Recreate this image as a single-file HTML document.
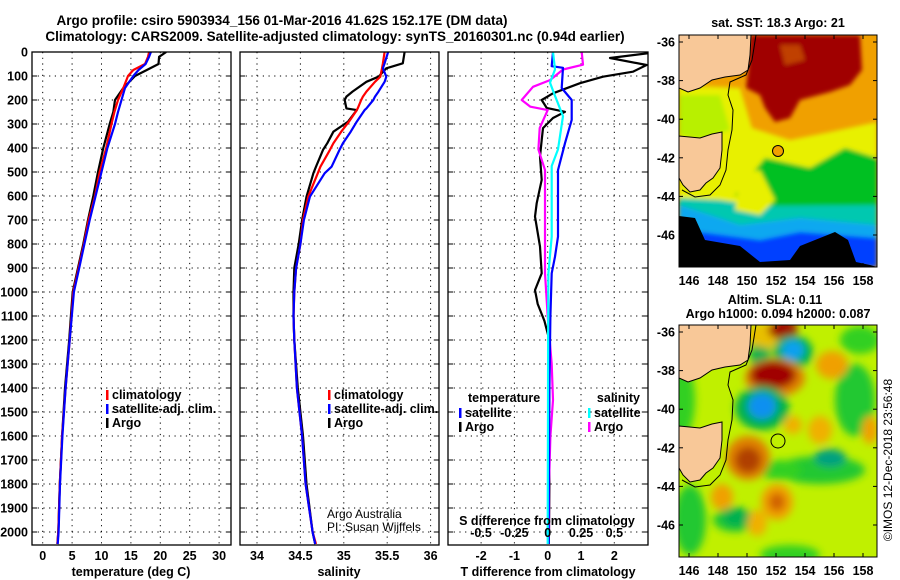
<!DOCTYPE html>
<html><head><meta charset="utf-8">
<style>
html,body{margin:0;padding:0;background:#fff;}
svg{display:block;font-family:"Liberation Sans",sans-serif;}
</style></head>
<body>
<svg id="fig" width="900" height="580" viewBox="0 0 900 580" xmlns="http://www.w3.org/2000/svg">
<defs>
<clipPath id="c1"><rect x="32" y="52" width="199" height="493"/></clipPath>
<clipPath id="c2"><rect x="240" y="52" width="199" height="493"/></clipPath>
<clipPath id="c3"><rect x="448" y="52" width="200" height="493"/></clipPath>
<clipPath id="cm1"><rect x="679" y="35" width="198" height="232"/></clipPath>
<clipPath id="cm2"><rect x="679" y="325" width="198" height="232"/></clipPath>
<filter id="blur" x="-30%" y="-30%" width="160%" height="160%"><feGaussianBlur stdDeviation="4"/></filter>
<filter id="blur2"><feGaussianBlur stdDeviation="2"/></filter>
</defs>
<g font-weight="bold" font-size="13.5" text-anchor="middle">
<text x="282" y="25">Argo profile: csiro 5903934_156 01-Mar-2016 41.62S 152.17E (DM data)</text>
<text x="335" y="41">Climatology: CARS2009. Satellite-adjusted climatology: synTS_20160301.nc (0.94d earlier)</text>
</g>
<g id="panels"></g>
<g id="maps"></g>
</svg>
<script>
// ---------- data ----------
const tDepth = [0,20,50,75,100,150,200,250,300,400,500,600,700,800,900,1000,1100,1200,1400,1600,1800,2000,2050];
const tArgo  = [21,19.8,19.7,17.7,15.7,13.7,12.3,12,11.4,10.3,9.4,8.6,7.7,6.9,6.0,5.1,4.8,4.5,3.8,3.3,2.9,2.65,2.5];
const tClim  = [18.1,17.9,17.4,15.4,14.5,13.7,12.8,12.2,11.7,10.8,9.7,8.9,7.8,7.0,6.1,5.2,4.9,4.6,3.9,3.3,2.9,2.65,2.5];
const tSat   = [18.4,18.1,17.5,16.3,15.4,14.0,13.4,12.8,12.3,11.0,10.0,9.0,8.0,7.1,6.2,5.3,4.95,4.6,3.9,3.35,2.95,2.7,2.55];
const sDepth = [0,47,68,103,124,165,186,200,235,242,290,332,380,408,478,505,603,700,800,900,1000,1100,1200,1400,1600,1800,2000,2050];
const sArgo  = [35.70,35.68,35.49,35.40,35.26,35.10,35.03,35.01,35.03,35.15,35.05,34.88,34.81,34.76,34.68,34.65,34.57,34.52,34.48,34.43,34.42,34.42,34.43,34.47,34.53,34.57,34.64,34.67];
const sClim  = [35.47,35.45,35.44,35.42,35.36,35.26,35.22,35.20,35.16,35.15,35.06,34.97,34.88,34.84,34.73,34.70,34.59,34.53,34.50,34.45,34.43,34.42,34.43,34.46,34.52,34.56,34.64,34.68];
const sSat   = [35.51,35.47,35.45,35.49,35.47,35.40,35.36,35.34,35.26,35.24,35.15,35.08,34.99,34.95,34.86,34.78,34.61,34.54,34.50,34.45,34.43,34.42,34.43,34.46,34.52,34.56,34.64,34.67];
const dDepthA = [0,25,54,82,103,130,172,200,233,249,275,317,367,436,533,630,686,811,922,992,1050,1120,1200,1400,1600,1800,2000,2050];
const dTArgo  = [3.3,1.87,2.97,2.56,1.66,0.97,0.16,-0.18,-0.03,0.52,0.16,-0.14,-0.18,-0.23,-0.18,-0.33,-0.38,-0.23,-0.18,-0.38,-0.3,-0.1,0.05,0.05,0.03,0.05,0.04,0.03];
const dDepthTS = [0,59,66,150,200,283,380,492,769,853,922,1100,1400,1700,2000,2050];
const dTSat    = [0.16,0.12,0.46,0.42,0.72,0.72,0.52,0.31,0.31,0.22,0.12,0.08,0.05,0.04,0.03,0.03];
const dDepthSS = [0,73,128,183,267,406,475,769,922,1200,1500,2000,2050];
const dSSat    = [0.04,0.055,0.017,0.055,0.115,0.077,0.03,0.03,0.005,0.003,0.002,0.0,0.0];
const dDepthSA = [0,53,73,117,145,200,228,242,317,406,492,922,1100,1300,1450,1600,1800,2000,2050];
const dSArgo   = [0.255,0.265,0.115,0.017,-0.11,-0.195,-0.13,0.0,-0.06,-0.07,-0.02,-0.02,0.0,0.03,0.04,0.02,0.01,0.01,0.005];
const depthTicks = [0,100,200,300,400,500,600,700,800,900,1000,1100,1200,1300,1400,1500,1600,1700,1800,1900,2000];
const tTicks = [0,5,10,15,20,25,30];
const sTicks = [34,34.5,35,35.5,36];
const dTTicks = [-2,-1,0,1,2];
const dSTicks = [-0.5,-0.25,0,0.25,0.5];
const lonTicks = [146,148,150,152,154,156,158];
const latTicks = [-36,-38,-40,-42,-44,-46];

// ---------- scales ----------
const yD = d => 52 + d*0.24;
const xT = t => 42.7 + t*5.88;
const xS = s => 257 + (s-34)*86.8;
const xdT = v => 547.7 + v*33.3;
const xdS = v => 547.7 + v*133.3;

const NS="http://www.w3.org/2000/svg";
function mk(tag, attrs, parent){const e=document.createElementNS(NS,tag);for(const k in attrs)e.setAttribute(k,attrs[k]);parent.appendChild(e);return e;}
const panels=document.getElementById('panels');

function frame(x,y,w,h,name){
  const r=mk('rect',{x:x,y:y,width:w,height:h,fill:'none',stroke:'#000','stroke-width':1.3},panels);
  
  
}
function grid(x0,x1,xs,clip){
  const g=mk('g',{stroke:'#000','stroke-width':1,'stroke-dasharray':'1.2,4.5','clip-path':'url(#'+clip+')'},panels);
  
  
  depthTicks.forEach(d=>mk('line',{x1:x0,x2:x1,y1:yD(d),y2:yD(d)},g));
  xs.forEach(x=>mk('line',{x1:x,x2:x,y1:52,y2:545},g));
  depthTicks.forEach(d=>{mk('line',{x1:x0,x2:x0+5,y1:yD(d),y2:yD(d),'stroke-dasharray':'none'},g);mk('line',{x1:x1-5,x2:x1,y1:yD(d),y2:yD(d),'stroke-dasharray':'none'},g);});
}
function line(xs,ds,fx,color,clip,name){
  const pts=xs.map((v,i)=>fx(v).toFixed(1)+','+yD(ds[i]).toFixed(1)).join(' ');
  const p=mk('polyline',{points:pts,fill:'none',stroke:color,'stroke-width':2.2,'stroke-linejoin':'round','clip-path':'url(#'+clip+')'},panels);
  
  
}
function text(x,y,s,opts,name){
  const t=mk('text',Object.assign({x:x,y:y,'font-size':12.5,'font-weight':'bold'},opts||{}),panels);
  t.textContent=s;
  
  
  return t;
}

// Panel 1: temperature
grid(32,231,tTicks.map(xT),'c1');
line(tArgo,tDepth,xT,'#000','c1','temperature-argo-line');
line(tClim,tDepth,xT,'#f00','c1','temperature-climatology-line');
line(tSat,tDepth,xT,'#00f','c1','temperature-satellite-line');
frame(32,52,199,493,'temperature-panel');
depthTicks.forEach(d=>text(28,yD(d)+4.5,String(d),{'text-anchor':'end'},'depth-tick-label'));
tTicks.forEach(t=>text(xT(t),560,String(t),{'text-anchor':'middle'},'temperature-tick-label'));
text(131,576,'temperature (deg C)',{'text-anchor':'middle'},'temperature-axis-title');

// Panel 2: salinity
grid(240,439,sTicks.map(xS),'c2');
line(sArgo,sDepth,xS,'#000','c2','salinity-argo-line');
line(sClim,sDepth,xS,'#f00','c2','salinity-climatology-line');
line(sSat,sDepth,xS,'#00f','c2','salinity-satellite-line');
frame(240,52,199,493,'salinity-panel');
sTicks.forEach(s=>text(xS(s),560,String(s),{'text-anchor':'middle'},'salinity-tick-label'));
text(339,576,'salinity',{'text-anchor':'middle'},'salinity-axis-title');
text(327,518,'Argo Australia',{'font-weight':'normal','font-size':12},'credit-argo-australia');
text(327,531,'PI: Susan Wijffels',{'font-weight':'normal','font-size':12},'credit-pi');

// Panel 3: differences
grid(448,648,dTTicks.map(xdT),'c3');
line(dTArgo,dDepthA,xdT,'#000','c3','tdiff-argo-line');
line(dSArgo,dDepthSA,xdS,'#f0f','c3','sdiff-argo-line');
line(dTSat,dDepthTS,xdT,'#00f','c3','tdiff-satellite-line');
line(dSSat,dDepthSS,xdS,'#0ff','c3','sdiff-satellite-line');
frame(448,52,200,493,'difference-panel');
dTTicks.forEach(v=>text(xdT(v),560,String(v),{'text-anchor':'middle'},'tdiff-tick-label'));
text(548,576,'T difference from climatology',{'text-anchor':'middle'},'tdiff-axis-title');
dSTicks.forEach(v=>text(xdS(v),537,String(v),{'text-anchor':'middle'},'sdiff-tick-label'));
text(547,525,'S difference from climatology',{'text-anchor':'middle'},'sdiff-axis-title');

// legends
function legItem(x,y,color,label,name){
  const r=mk('rect',{x:x,y:y-8,width:2.5,height:10,fill:color},panels);
  
  
  text(x+6,y+1,label,{},name);
}
legItem(106,398,'#f00','climatology','legend-climatology');
legItem(106,412,'#00f','satellite-adj. clim.','legend-satellite-adj');
legItem(106,426,'#000','Argo','legend-argo');
legItem(328,398,'#f00','climatology','legend2-climatology');
legItem(328,412,'#00f','satellite-adj. clim.','legend2-satellite-adj');
legItem(328,426,'#000','Argo','legend2-argo');
text(468,402,'temperature',{},'legend-temperature-heading');
legItem(459,416,'#00f','satellite','legend-t-satellite');
legItem(459,430,'#000','Argo','legend-t-argo');
text(640,402,'salinity',{'text-anchor':'end'},'legend-salinity-heading');
legItem(588,416,'#0ff','satellite','legend-s-satellite');
legItem(588,430,'#f0f','Argo','legend-s-argo');

// ---------- maps ----------
const maps=document.getElementById('maps');
const mx = lon => 689 + (lon-146)*14.5;
function mapAxes(y0,latY,name){
  const g=mk('g',{},maps);
  
  
  mk('rect',{x:679,y:y0,width:198,height:232,fill:'none',stroke:'#000','stroke-width':1},g);
  lonTicks.forEach(l=>{mk('line',{x1:mx(l),x2:mx(l),y1:y0,y2:y0+4,stroke:'#000'},g);mk('line',{x1:mx(l),x2:mx(l),y1:y0+232,y2:y0+228,stroke:'#000'},g);
    const t=mk('text',{x:mx(l),y:y0+250,'text-anchor':'middle','font-size':12.5,'font-weight':'bold'},g);t.textContent=l;
    
    });
  latTicks.forEach(l=>{const yy=latY(l);mk('line',{x1:679,x2:683,y1:yy,y2:yy,stroke:'#000'},g);mk('line',{x1:877,x2:873,y1:yy,y2:yy,stroke:'#000'},g);
    const t=mk('text',{x:675,y:yy+4.5,'text-anchor':'end','font-size':12.5,'font-weight':'bold'},g);t.textContent=l;
    
    });
}
function poly(g,pts,fill,dy,extra){
  return mk('polygon',Object.assign({points:pts.map(p=>p[0]+','+(p[1]+dy)).join(' '),fill:fill},extra||{}),g);
}
const land1=[[679,35],[751,35],[750,55],[748,70],[740,75],[725,77],[712,80],[700,88],[688,92],[679,88]];
const land2=[[679,136],[700,138],[712,134],[722,132],[722,150],[720,168],[713,178],[706,183],[700,190],[690,192],[683,185],[679,178]];
const shelf=[[756,35],[752,60],[746,75],[730,82],[728,95],[733,110],[732,130],[728,150],[726,170],[720,185],[710,195],[695,197],[682,190]];
function landLayer(g,dy){
  [land1,land2].forEach((L,i)=>{const p=poly(g,L,'#f8c898',dy,{stroke:'#000','stroke-width':1});
    
    });
  mk('polyline',{points:shelf.map(p=>p[0]+','+(p[1]+dy)).join(' '),fill:'none',stroke:'#000','stroke-width':1},g);
}
// SST map
const g1=mk('g',{'clip-path':'url(#cm1)'},maps);


mk('rect',{x:679,y:35,width:198,height:232,fill:'#f0a000'},g1);
const sg=mk('g',{filter:'url(#blur2)'},g1);
poly(sg,[[679,85],[740,88],[752,128],[790,140],[830,132],[877,122],[877,165],[840,160],[800,170],[760,182],[735,205],[679,200]],'#e8f000',0);
poly(sg,[[679,95],[720,95],[730,130],[700,140],[679,135]],'#b8f000',0);
poly(sg,[[765,158],[810,168],[845,148],[877,158],[877,215],[800,212],[760,215],[735,195]],'#00c020',0);
poly(sg,[[679,198],[720,200],[760,206],[877,205],[877,240],[800,232],[760,250],[700,240],[679,238]],'#00c8b0',0);
poly(sg,[[679,205],[710,215],[740,225],[800,218],[877,225],[877,267],[679,267]],'#10a8f0',0);
poly(sg,[[700,232],[760,240],[800,232],[877,238],[877,267],[700,267]],'#0040ff',0);
poly(sg,[[750,35],[860,35],[862,70],[850,85],[830,92],[800,100],[790,118],[775,122],[765,108],[760,95],[746,88],[748,70]],'#a00000',0);
poly(sg,[[780,45],[800,45],[805,60],[785,65]],'#c04000',0);
poly(sg,[[740,175],[760,170],[775,200],[760,215],[735,210]],'#e8f000',0);
poly(g1,[[679,216],[695,218],[705,240],[740,246],[760,262],[790,260],[800,246],[835,232],[848,240],[856,262],[870,265],[877,267],[679,267]],'#000',0);
landLayer(g1,0);
const dot=mk('circle',{cx:778,cy:151,r:5.5,fill:'#f0a000',stroke:'#000','stroke-width':1},g1);


mapAxes(35,l=>42+(-36-l)*19.3,'sst-map');
// SLA map
const g2=mk('g',{'clip-path':'url(#cm2)'},maps);


mk('rect',{x:679,y:325,width:198,height:232,fill:'#c0f000'},g2);
const bg=mk('g',{filter:'url(#blur)'},g2);
const blobs=[
 [679,400,16,40,'#30d020'],[690,520,16,35,'#20c830'],[860,340,20,14,'#30d020'],[855,400,20,36,'#20c830'],
 [820,470,45,14,'#20c830'],[735,520,22,12,'#20c830'],[780,470,22,10,'#30d020'],[790,555,30,10,'#30d020'],
 [760,355,10,16,'#00b050'],
 [770,335,24,13,'#e8c000'],[783,330,15,9,'#a00000'],
 [793,352,20,17,'#00b050'],[793,350,11,10,'#10a0f0'],
 [775,378,30,19,'#e08000'],[773,375,23,14,'#a00000'],
 [762,408,27,22,'#00b050'],[762,406,14,13,'#1090f0'],
 [748,458,22,22,'#e08000'],[748,460,13,13,'#b04000'],
 [832,365,16,14,'#f0a000'],[820,430,12,14,'#f0b000'],[793,425,9,9,'#f0b000'],
 [777,502,16,18,'#f0a000'],[777,502,8,9,'#d06000'],[722,497,11,13,'#f0a000'],[757,523,10,13,'#f0b000'],
 [736,517,13,10,'#00b050'],[830,458,16,9,'#00a080'],[870,430,8,14,'#f0a000']];
blobs.forEach(b=>{mk('ellipse',{cx:b[0],cy:b[1],rx:b[2],ry:b[3],fill:b[4]},bg);});
landLayer(g2,290);
const dot2=mk('circle',{cx:778,cy:441,r:7,fill:'none',stroke:'#000','stroke-width':1},g2);


mapAxes(325,l=>332+(-36-l)*19.3,'sla-map');

function mt(x,y,s,name,extra){const t=mk('text',Object.assign({x:x,y:y,'text-anchor':'middle','font-size':12.5,'font-weight':'bold'},extra||{}),maps);t.textContent=s;
  
  }
mt(778,27,'sat. SST: 18.3 Argo: 21','sst-map-title');
mt(775,304,'Altim. SLA: 0.11','sla-map-title');
mt(778,318,'Argo h1000: 0.094 h2000: 0.087','sla-map-subtitle');
mt(0,0,'©IMOS 12-Dec-2018 23:56:48','imos-timestamp',{transform:'translate(892,460) rotate(-90)','font-weight':'normal','font-size':12});
</script>
</body></html>
